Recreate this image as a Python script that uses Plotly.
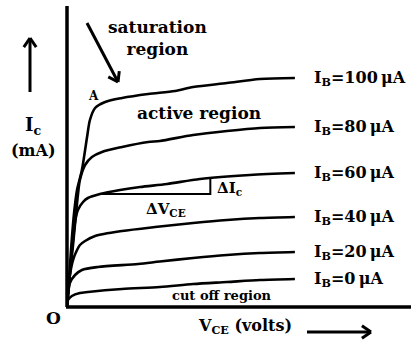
import math
import plotly.graph_objects as go

# Output characteristics of a transistor in CE configuration (schematic units)
# V_CE in volts, I_C in mA, one curve per base current I_B.
base_currents = [100, 80, 60, 40, 20, 0]  # µA

vce_100 = [0, 0.07, 0.14, 0.24, 0.35, 0.52, 0.70, 0.80, 0.98, 1.33, 1.92, 2.83, 3.77, 4.40, 5.58, 6.73, 7.95]
ic_100 = [0, 1.04, 2.24, 3.64, 4.64, 5.44, 6.76, 7.44, 7.92, 8.16, 8.32, 8.48, 8.60, 8.76, 8.92, 9.08, 9.12]

vce_80 = [0, 0.10, 0.21, 0.31, 0.38, 0.45, 0.63, 0.87, 1.22, 1.92, 2.83, 3.24, 4.40, 5.58, 6.73, 7.95]
ic_80 = [0, 1.24, 2.44, 3.64, 4.44, 5.04, 5.64, 5.96, 6.16, 6.36, 6.56, 6.60, 6.84, 7.00, 7.12, 7.16]

vce_60 = [0, 0.07, 0.14, 0.21, 0.28, 0.38, 0.56, 0.73, 1.15, 1.85, 2.55, 3.49, 4.64, 6.38, 7.95]
ic_60 = [0, 0.84, 1.84, 2.64, 3.36, 3.84, 4.16, 4.32, 4.48, 4.64, 4.76, 4.88, 5.08, 5.24, 5.32]

vce_40 = [0, 0.035, 0.10, 0.21, 0.35, 0.45, 0.63, 0.98, 1.92, 3.07, 4.40, 5.58, 6.73, 7.95]
ic_40 = [0, 0.64, 1.24, 1.84, 2.24, 2.44, 2.60, 2.80, 3.00, 3.16, 3.32, 3.44, 3.52, 3.56]

vce_20 = [0, 0.035, 0.10, 0.28, 0.52, 1.08, 2.48, 3.24, 4.40, 5.58, 6.73, 7.95]
ic_20 = [0, 0.44, 0.92, 1.24, 1.44, 1.56, 1.68, 1.78, 1.92, 2.04, 2.12, 2.16]

vce_0 = [0, 0.035, 0.17, 0.45, 0.73, 1.92, 3.24, 4.40, 5.58, 6.73, 7.95]
ic_0 = [0, 0.24, 0.40, 0.52, 0.56, 0.68, 0.76, 0.88, 0.96, 1.04, 1.08]

curves = [(vce_100, ic_100), (vce_80, ic_80), (vce_60, ic_60),
          (vce_40, ic_40), (vce_20, ic_20), (vce_0, ic_0)]

# Slope triangle on the I_B = 60 µA curve
dvce_start = 1.15
dvce_end = 5.0

# Canvas / plot-area geometry
W, H = 411, 345
ML, MR, MT, MB = 67, 0, 6, 39
X_RANGE = [0, 12]
Y_RANGE = [0, 12]
PW, PH = W - ML - MR, H - MT - MB

FONT = "DejaVu Serif"
INK = "black"


def paper(x, y):
    """Canvas pixel -> paper coordinates."""
    return (x - ML) / PW, (H - MB - y) / PH


def interp(xs, ys, x):
    for i in range(len(xs) - 1):
        if xs[i] <= x <= xs[i + 1]:
            t = (x - xs[i]) / (xs[i + 1] - xs[i])
            return ys[i] + t * (ys[i + 1] - ys[i])
    return ys[-1]


fig = go.Figure()

for (xs, ys) in curves:
    fig.add_trace(go.Scatter(
        x=xs, y=ys, mode="lines",
        line=dict(color=INK, width=2.6, shape="spline", smoothing=0.8),
        hoverinfo="skip", showlegend=False,
    ))

# ΔV_CE / ΔI_C triangle
y_start = interp(vce_60, ic_60, dvce_start)
y_end = interp(vce_60, ic_60, dvce_end)
fig.add_trace(go.Scatter(
    x=[dvce_start, dvce_end, dvce_end],
    y=[y_start, y_start, y_end],
    mode="lines", line=dict(color=INK, width=2),
    hoverinfo="skip", showlegend=False,
))

shapes = []


def seg(x0, y0, x1, y1, width=3):
    a, b = paper(x0, y0)
    c, d = paper(x1, y1)
    shapes.append(dict(type="line", xref="paper", yref="paper",
                       x0=a, y0=b, x1=c, y1=d,
                       line=dict(color=INK, width=width)))


def arrow(x0, y0, x1, y1, head=11, width=3):
    seg(x0, y0, x1, y1, width)
    dx, dy = x1 - x0, y1 - y0
    n = math.hypot(dx, dy)
    ux, uy = dx / n, dy / n
    for ang in (0.6, -0.6):
        ca, sa = math.cos(ang), math.sin(ang)
        rx = -(ux * ca - uy * sa)
        ry = -(ux * sa + uy * ca)
        seg(x1, y1, x1 + rx * head, y1 + ry * head, width)


# axes
seg(67, 6, 67, 307, 3.5)
seg(66, 307, 411, 307, 3.5)
# direction arrows
arrow(30, 92, 30, 38)
arrow(307, 332, 371, 332)
arrow(87, 23, 118, 82)

annotations = []


def label(text, x, y, size=18, anchor="center", bold=True):
    px_, py_ = paper(x, y)
    if bold:
        text = "<b>" + text + "</b>"
    annotations.append(dict(text=text, x=px_, y=py_, xref="paper", yref="paper",
                            xanchor=anchor, yanchor="middle", showarrow=False,
                            font=dict(family=FONT, size=size, color=INK)))


label("saturation<br>region", 157, 38, 17)
label("A", 93, 96, 12)
label("active region", 199, 113, 17)
label("I<sub>c</sub>", 33, 126, 18)
label("(mA)", 33, 150, 16)
label("ΔV<sub>CE</sub>", 166, 210, 15)
label("ΔI<sub>c</sub>", 229, 188, 15)
label("cut off region", 222, 295, 13)
label("O", 53, 318, 17)
label("V<sub>CE</sub> (volts)", 245, 326, 16)

# curve labels, aligned with each curve's end point
for ib, (xs, ys) in zip(base_currents, curves):
    annotations.append(dict(
        text=f"<b>I<sub>B</sub>={ib}\u2009μA</b>", x=8.55, y=ys[-1],
        xref="x", yref="y", xanchor="left", yanchor="middle",
        showarrow=False, font=dict(family=FONT, size=16, color=INK)))

fig.update_layout(
    width=W, height=H,
    margin=dict(l=ML, r=MR, t=MT, b=MB, pad=0),
    paper_bgcolor="white", plot_bgcolor="white",
    xaxis=dict(range=X_RANGE, visible=False, fixedrange=True),
    yaxis=dict(range=Y_RANGE, visible=False, fixedrange=True),
    shapes=shapes, annotations=annotations,
    showlegend=False,
)

fig.write_html("out.html", config={"displayModeBar": False})
